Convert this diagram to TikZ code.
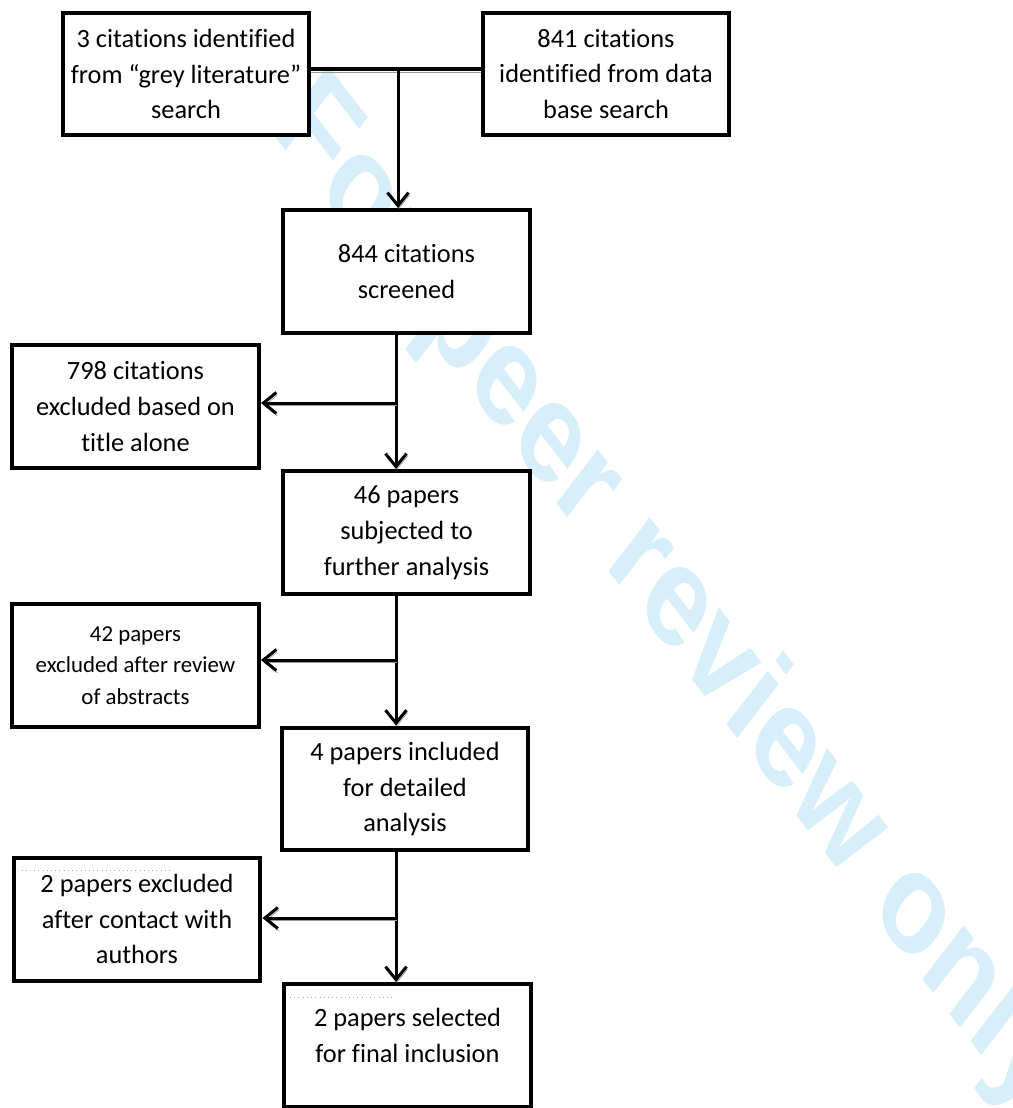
\documentclass[tikz,border=0pt]{standalone}
\usepackage{fontspec}
\setmainfont{Carlito}[Ligatures=NoCommon]
\newfontfamily\wmfont{Liberation Sans}
\usetikzlibrary{arrows.meta}
\definecolor{wmblue}{RGB}{214,239,251}
\tikzset{
  stage/.style={draw,rectangle,fill=white,line width=0.08cm,minimum width=4.94cm,minimum height=2.46cm,inner sep=0pt,align=center,font=\fontsize{15}{20.4}\selectfont},
  stagesmall/.style={stage,font=\fontsize{13}{18}\selectfont},
  % Kantar
  flow/.style={-{Straight Barb[length=0.26cm,width=0.42cm]},line width=0.06cm,preaction={draw=black!40,transform canvas={xshift=0.02cm,yshift=-0.05cm}}},
  joinline/.style={line width=0.08cm,preaction={draw=black!40,transform canvas={yshift=-0.07cm}}},
  gapline/.style={dotted,draw=black!35,line width=0.4pt},
  wmark/.style={text=wmblue,font=\wmfont\bfseries\fontsize{63}{63}\selectfont,inner sep=0pt},
}

\begin{document}
\begin{tikzpicture}[x=0.02cm,y=-0.02cm]
  \useasboundingbox (0,0) rectangle (1013,1108);
  \begin{scope}[shift={(670,598)},yscale=1.3]
    \node[wmark,transform shape,rotate=-45] (wm) at (0,0) {For peer review only};
  \end{scope}

  \node[stage] (grey)  at (186,74)    {3 citations identified\\from “grey literature”\\search};
  \node[stage] (dbase) at (606,74)    {841 citations\\identified from data\\base search};
  \node[stage] (scr)   at (406.5,271.5) {844 citations\\screened};
  \node[stage] (title) at (135.5,406.5) {798 citations\\excluded based on\\title alone};
  \node[stage] (ana)   at (406.5,532.5) {46 papers\\subjected to\\further analysis};
  \node[stagesmall] (abst) at (135.5,665.5) {42 papers\\excluded after review\\of abstracts};
  \node[stage] (det)   at (405,789)   {4 papers included\\for detailed\\analysis};
  \node[stage] (auth)  at (137,919)   {2 papers excluded\\after contact with\\authors};
  \node[stage] (fin)   at (407.5,1045.5) {2 papers selected\\for final inclusion\\[-0.32cm]~};

  \draw[gapline] ([xshift=0.2cm,yshift=-0.3cm]auth.north west) -- ++(150,0);
  \draw[gapline] ([xshift=0.16cm,yshift=-0.3cm]fin.north west) -- ++(105,0);

  \coordinate (j0) at (398,69);
  \coordinate (j1) at (396,403);
  \coordinate (j2) at (396,660);
  \coordinate (j3) at (396,918);

  \draw[joinline] (grey.east |- j0) -- (dbase.west |- j0);
  \draw[flow] (j0) -- (scr.north -| j0);
  \draw[flow] (scr.south -| j1) -- (ana.north -| j1);
  \draw[flow] (j1) -- (title.east |- j1);
  \draw[flow] (ana.south -| j2) -- (det.north -| j2);
  \draw[flow] (j2) -- (abst.east |- j2);
  \draw[flow] (det.south -| j3) -- (fin.north -| j3);
  \draw[flow] (j3) -- (auth.east |- j3);
\end{tikzpicture}
\end{document}
